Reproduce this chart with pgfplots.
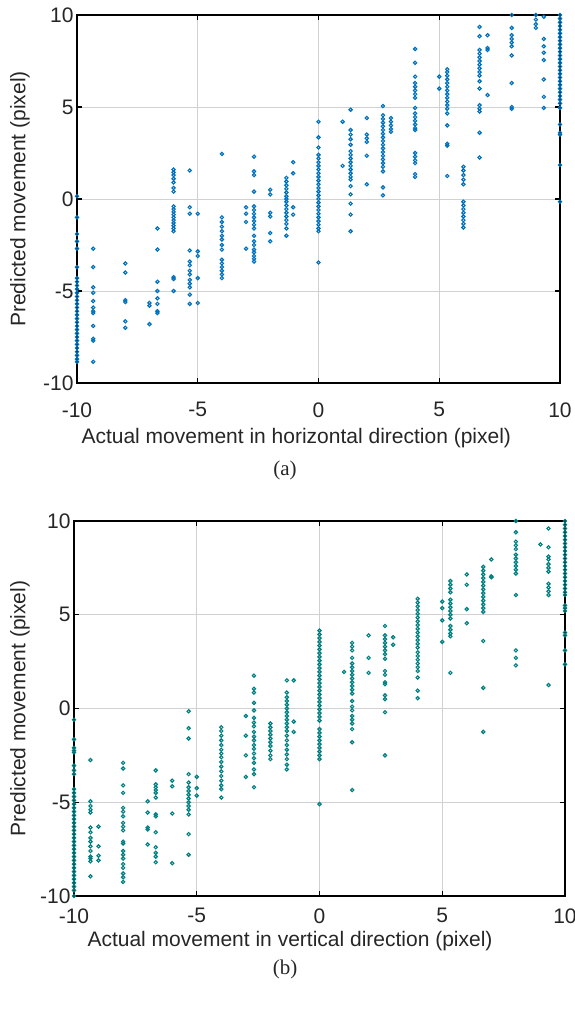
\documentclass[border=0pt]{standalone}
\usepackage{pgfplots}
\pgfplotsset{compat=1.18}
\usepackage{fontspec}
\setmainfont{Liberation Sans}
\newfontfamily\capfont{Liberation Serif}
\definecolor{mblue}{RGB}{0,114,189}
\definecolor{mteal}{RGB}{0,128,128}
\pgfplotsset{
  mystyle/.style={
    scale only axis,
    xmin=-10, xmax=10, ymin=-10, ymax=10,
    xtick={-10,-5,0,5,10}, ytick={-10,-5,0,5,10},
    xticklabels={-10,-5,0,5,10}, yticklabels={-10,-5,0,5,10},
    tick align=inside, major tick length=5pt,
    grid=major, major grid style={black!18, line width=0.9pt},
    axis line style={draw=none},
    tick style={black, line width=1.2pt},
    ticklabel style={font=\fontsize{21}{24}\selectfont, color=black!85},
    label style={font=\fontsize{21}{24}\selectfont, color=black!85},
    clip=false,
  },
  mymarks/.style={only marks, mark=square, mark size=1.15pt, line width=1.15pt,
    mark options={rotate=45}},
}
\begin{document}
\begin{tikzpicture}
\path[use as bounding box] (0,0) rectangle (575pt,1010pt);
% ---------------- (a) ----------------
\begin{axis}[mystyle,
  at={(77pt,627pt)}, anchor=south west,
  width=483pt, height=368pt,
  xticklabel style={yshift=-16pt},
  xlabel={Actual movement in horizontal direction (pixel)},
  ylabel={Predicted movement (pixel)},
  xlabel style={at={(axis description cs:0.454,0)}, anchor=center, yshift=-55pt},
  ylabel style={at={(axis description cs:-0.118,0.5)}, anchor=center},
]
\draw[black, line width=1.4pt] (rel axis cs:0,0) rectangle (rel axis cs:1,1);
\addplot[mymarks, color=mblue] table[row sep=\\] {
x y\\
-10 0.15\\ -10 -1.0\\ -10 -1.9\\ -10 -2.3\\ -10 -2.7\\ -10 -3.7\\ -10 -4.3\\ -10 -4.5\\ -10 -4.7\\ -10 -4.9\\ -10 -5.1\\ -10 -5.3\\ -10 -5.5\\ -10 -5.7\\ -10 -5.9\\ -10 -6.1\\ -10 -6.3\\ -10 -6.5\\ -10 -6.7\\ -10 -6.9\\ -10 -7.1\\ -10 -7.3\\ -10 -7.5\\ -10 -7.7\\ -10 -7.9\\ -10 -8.1\\ -10 -8.3\\ -10 -8.5\\ -10 -8.7\\ -10 -8.85\\
-9.33 -2.7\\ -9.33 -3.7\\ -9.33 -4.8\\ -9.33 -5.1\\ -9.33 -5.55\\ -9.33 -5.9\\ -9.33 -6.1\\ -9.33 -6.2\\ -9.33 -6.9\\ -9.33 -7.6\\ -9.33 -7.7\\ -9.33 -8.85\\
-8 -3.5\\ -8 -4.0\\ -8 -5.5\\ -8 -5.6\\ -8 -6.65\\ -8 -7.0\\
-7 -5.65\\ -7 -5.8\\ -7 -6.8\\
-6.67 -1.6\\ -6.67 -2.75\\ -6.67 -4.5\\ -6.67 -5.0\\ -6.67 -5.4\\ -6.67 -5.7\\ -6.67 -6.1\\ -6.67 -6.2\\
-6 1.6\\ -6 1.45\\ -6 1.3\\ -6 1.1\\ -6 0.9\\ -6 0.6\\ -6 0.4\\ -6 -0.4\\ -6 -0.55\\ -6 -0.7\\ -6 -0.85\\ -6 -1.0\\ -6 -1.15\\ -6 -1.3\\ -6 -1.45\\ -6 -1.6\\ -6 -1.75\\ -6 -4.25\\ -6 -4.35\\ -6 -5.0\\
-5.33 1.55\\ -5.33 -0.45\\ -5.33 -0.8\\ -5.33 -2.8\\ -5.33 -3.4\\ -5.33 -3.6\\ -5.33 -3.9\\ -5.33 -4.1\\ -5.33 -4.4\\ -5.33 -4.6\\ -5.33 -4.8\\ -5.33 -5.2\\ -5.33 -5.7\\
-5 -0.8\\ -5 -2.85\\ -5 -3.1\\ -5 -4.3\\ -5 -5.65\\
-4 2.45\\ -4 -1.0\\ -4 -1.25\\ -4 -1.5\\ -4 -1.75\\ -4 -2.0\\ -4 -2.2\\ -4 -2.5\\ -4 -2.75\\ -4 -3.3\\ -4 -3.5\\ -4 -3.7\\ -4 -3.9\\ -4 -4.1\\ -4 -4.3\\
-3 -0.45\\ -3 -0.8\\ -3 -1.25\\ -3 -2.7\\
-2.67 2.3\\ -2.67 1.5\\ -2.67 1.3\\ -2.67 0.4\\ -2.67 -0.4\\ -2.67 -0.6\\ -2.67 -0.8\\ -2.67 -1.0\\ -2.67 -1.2\\ -2.67 -1.4\\ -2.67 -1.6\\ -2.67 -2.0\\ -2.67 -2.3\\ -2.67 -2.5\\ -2.67 -2.75\\ -2.67 -2.9\\ -2.67 -3.1\\ -2.67 -3.25\\ -2.67 -3.4\\
-2 0.5\\ -2 0.25\\ -2 -0.75\\ -2 -0.95\\ -2 -1.85\\ -2 -2.3\\
-1.33 1.15\\ -1.33 0.95\\ -1.33 0.75\\ -1.33 0.55\\ -1.33 0.35\\ -1.33 0.15\\ -1.33 0.0\\ -1.33 -0.15\\ -1.33 -0.35\\ -1.33 -0.55\\ -1.33 -0.75\\ -1.33 -0.95\\ -1.33 -1.15\\ -1.33 -1.35\\ -1.33 -1.6\\ -1.33 -2.0\\
-1.05 2.0\\ -1.05 1.4\\ -1.05 -0.45\\ -1.05 -0.85\\
0 4.2\\ 0 3.35\\ 0 2.8\\ 0 2.4\\ 0 2.2\\ 0 2.0\\ 0 1.8\\ 0 1.6\\ 0 1.4\\ 0 1.2\\ 0 1.0\\ 0 0.8\\ 0 0.6\\ 0 0.4\\ 0 0.2\\ 0 0.0\\ 0 -0.2\\ 0 -0.4\\ 0 -0.6\\ 0 -0.8\\ 0 -1.0\\ 0 -1.2\\ 0 -1.4\\ 0 -1.6\\ 0 -1.75\\ 0 -3.45\\
1 4.2\\ 1 1.8\\
1.33 4.85\\ 1.33 3.75\\ 1.33 3.5\\ 1.33 3.25\\ 1.33 2.95\\ 1.33 2.6\\ 1.33 2.4\\ 1.33 2.2\\ 1.33 2.0\\ 1.33 1.8\\ 1.33 1.6\\ 1.33 1.4\\ 1.33 1.2\\ 1.33 1.05\\ 1.33 0.7\\ 1.33 0.25\\ 1.33 -0.25\\ 1.33 -0.85\\ 1.33 -1.75\\
2 4.4\\ 2 3.5\\ 2 3.3\\ 2 3.1\\ 2 2.35\\ 2 0.8\\
2.67 5.05\\ 2.67 4.55\\ 2.67 4.35\\ 2.67 4.15\\ 2.67 3.95\\ 2.67 3.75\\ 2.67 3.55\\ 2.67 3.35\\ 2.67 3.15\\ 2.67 2.95\\ 2.67 2.75\\ 2.67 2.55\\ 2.67 2.35\\ 2.67 2.15\\ 2.67 1.95\\ 2.67 1.75\\ 2.67 1.5\\ 2.67 0.63\\ 2.67 0.2\\
3 4.4\\ 3 4.2\\ 3 4.0\\ 3 3.8\\ 3 3.65\\
4 8.15\\ 4 7.4\\ 4 6.65\\ 4 6.3\\ 4 6.1\\ 4 5.9\\ 4 5.7\\ 4 5.5\\ 4 4.95\\ 4 4.65\\ 4 4.45\\ 4 4.25\\ 4 4.05\\ 4 3.85\\ 4 3.75\\ 4 2.5\\ 4 2.3\\ 4 2.1\\ 4 1.95\\ 4 1.35\\ 4 1.2\\
5 6.65\\ 5 6.0\\
5.33 7.05\\ 5.33 6.9\\ 5.33 6.7\\ 5.33 6.5\\ 5.33 6.3\\ 5.33 6.1\\ 5.33 5.9\\ 5.33 5.7\\ 5.33 5.5\\ 5.33 5.3\\ 5.33 5.1\\ 5.33 4.9\\ 5.33 4.65\\ 5.33 4.0\\ 5.33 3.0\\ 5.33 2.9\\ 5.33 1.25\\
6 1.75\\ 6 1.55\\ 6 1.3\\ 6 1.05\\ 6 0.8\\ 6 -0.15\\ 6 -0.35\\ 6 -0.55\\ 6 -0.75\\ 6 -0.95\\ 6 -1.15\\ 6 -1.35\\ 6 -1.55\\
6.67 9.35\\ 6.67 8.85\\ 6.67 8.1\\ 6.67 7.9\\ 6.67 7.7\\ 6.67 7.5\\ 6.67 7.3\\ 6.67 7.1\\ 6.67 6.9\\ 6.67 6.7\\ 6.67 6.4\\ 6.67 6.0\\ 6.67 5.1\\ 6.67 4.9\\ 6.67 4.75\\ 6.67 3.6\\ 6.67 2.25\\
7 8.9\\ 7 8.2\\ 7 8.1\\ 7 5.65\\
8 10\\ 8 9.3\\ 8 8.9\\ 8 8.7\\ 8 8.5\\ 8 8.3\\ 8 7.8\\ 8 6.3\\ 8 5.0\\ 8 4.9\\
9 10\\ 9 9.75\\ 9 9.5\\ 9 9.3\\
9.33 9.9\\ 9.33 8.7\\ 9.33 8.3\\ 9.33 7.95\\ 9.33 7.55\\ 9.33 6.5\\ 9.33 5.55\\ 9.33 4.95\\
10 10\\ 10 9.8\\ 10 9.6\\ 10 9.4\\ 10 9.2\\ 10 9.0\\ 10 8.8\\ 10 8.6\\ 10 8.4\\ 10 8.2\\ 10 8.0\\ 10 7.8\\ 10 7.6\\ 10 7.4\\ 10 7.2\\ 10 7.0\\ 10 6.8\\ 10 6.6\\ 10 6.4\\ 10 6.2\\ 10 6.0\\ 10 5.8\\ 10 5.6\\ 10 5.4\\ 10 5.2\\ 10 4.95\\ 10 4.05\\ 10 3.6\\ 10 3.5\\ 10 1.85\\ 10 -0.15\\
};
\end{axis}
\node[font=\capfont\fontsize{21}{24}\selectfont, text=black!85] at (285pt,540pt) {(a)};
% ---------------- (b) ----------------
\begin{axis}[mystyle,
  at={(74pt,114pt)}, anchor=south west,
  width=491pt, height=375pt,
  xticklabel style={yshift=-9pt},
  xlabel={Actual movement in vertical direction (pixel)},
  ylabel={Predicted movement (pixel)},
  xlabel style={at={(axis description cs:0.440,0)}, anchor=center, yshift=-45pt},
  ylabel style={at={(axis description cs:-0.110,0.5)}, anchor=center},
]
\draw[black, line width=1.4pt] (rel axis cs:0,0) rectangle (rel axis cs:1,1);
\addplot[mymarks, color=mteal] table[row sep=\\] {
x y\\
-10 -0.6\\ -10 -1.65\\ -10 -2.1\\ -10 -2.25\\ -10 -2.35\\ -10 -3.05\\ -10 -3.3\\ -10 -3.5\\ -10 -4.3\\ -10 -4.5\\ -10 -4.7\\ -10 -4.9\\ -10 -5.1\\ -10 -5.3\\ -10 -5.5\\ -10 -5.7\\ -10 -5.9\\ -10 -6.1\\ -10 -6.3\\ -10 -6.5\\ -10 -6.7\\ -10 -6.9\\ -10 -7.1\\ -10 -7.3\\ -10 -7.5\\ -10 -7.7\\ -10 -7.9\\ -10 -8.1\\ -10 -8.3\\ -10 -8.5\\ -10 -8.7\\ -10 -8.9\\ -10 -9.1\\ -10 -9.3\\ -10 -9.5\\ -10 -9.7\\ -10 -10\\
-9.33 -2.75\\ -9.33 -4.95\\ -9.33 -5.2\\ -9.33 -5.4\\ -9.33 -5.55\\ -9.33 -6.35\\ -9.33 -6.6\\ -9.33 -6.9\\ -9.33 -7.1\\ -9.33 -7.35\\ -9.33 -7.6\\ -9.33 -7.9\\ -9.33 -8.0\\ -9.33 -8.15\\ -9.33 -8.95\\
-9 -6.3\\ -9 -7.35\\ -9 -7.85\\ -9 -8.1\\
-8 -2.9\\ -8 -3.2\\ -8 -4.1\\ -8 -4.5\\ -8 -5.3\\ -8 -5.5\\ -8 -5.75\\ -8 -6.1\\ -8 -6.3\\ -8 -6.5\\ -8 -7.1\\ -8 -7.2\\ -8 -7.6\\ -8 -7.8\\ -8 -8.0\\ -8 -8.3\\ -8 -8.5\\ -8 -8.8\\ -8 -9.0\\ -8 -9.25\\
-7 -4.95\\ -7 -5.55\\ -7 -6.35\\ -7 -6.45\\ -7 -7.25\\
-6.67 -3.3\\ -6.67 -4.05\\ -6.67 -4.2\\ -6.67 -4.35\\ -6.67 -4.5\\ -6.67 -4.75\\ -6.67 -5.65\\ -6.67 -5.75\\ -6.67 -6.6\\ -6.67 -7.4\\ -6.67 -7.7\\ -6.67 -7.9\\ -6.67 -8.2\\
-6 -3.85\\ -6 -4.15\\ -6 -5.6\\ -6 -8.25\\
-5.33 -0.15\\ -5.33 -1.05\\ -5.33 -1.6\\ -5.33 -3.5\\ -5.33 -3.95\\ -5.33 -4.2\\ -5.33 -4.4\\ -5.33 -4.6\\ -5.33 -4.8\\ -5.33 -5.0\\ -5.33 -5.2\\ -5.33 -5.4\\ -5.33 -5.65\\ -5.33 -6.7\\ -5.33 -7.8\\
-5 -3.65\\ -5 -4.25\\ -5 -4.65\\
-4 -1.0\\ -4 -1.2\\ -4 -1.45\\ -4 -1.7\\ -4 -1.95\\ -4 -2.2\\ -4 -2.4\\ -4 -2.6\\ -4 -2.85\\ -4 -3.1\\ -4 -3.35\\ -4 -3.6\\ -4 -3.85\\ -4 -4.1\\ -4 -4.3\\ -4 -4.75\\
-3 -0.4\\ -3 -1.45\\ -3 -2.5\\ -3 -3.65\\
-2.67 1.75\\ -2.67 1.05\\ -2.67 0.85\\ -2.67 0.3\\ -2.67 -0.1\\ -2.67 -0.5\\ -2.67 -0.75\\ -2.67 -0.95\\ -2.67 -1.25\\ -2.67 -1.5\\ -2.67 -1.7\\ -2.67 -1.95\\ -2.67 -2.15\\ -2.67 -2.4\\ -2.67 -2.65\\ -2.67 -2.9\\ -2.67 -3.25\\ -2.67 -3.5\\ -2.67 -4.2\\
-2 -0.8\\ -2 -1.0\\ -2 -1.2\\ -2 -1.4\\ -2 -1.6\\ -2 -1.8\\ -2 -2.0\\ -2 -2.25\\ -2 -2.5\\ -2 -2.7\\
-1.33 1.5\\ -1.33 0.85\\ -1.33 0.6\\ -1.33 0.4\\ -1.33 0.2\\ -1.33 0.0\\ -1.33 -0.2\\ -1.33 -0.4\\ -1.33 -0.6\\ -1.33 -0.8\\ -1.33 -1.0\\ -1.33 -1.2\\ -1.33 -1.45\\ -1.33 -1.7\\ -1.33 -1.95\\ -1.33 -2.2\\ -1.33 -2.45\\ -1.33 -2.7\\ -1.33 -3.0\\ -1.33 -3.25\\
-1.05 1.5\\ -1.05 -0.7\\ -1.05 -1.25\\
0 4.15\\ 0 3.95\\ 0 3.75\\ 0 3.55\\ 0 3.35\\ 0 3.15\\ 0 2.95\\ 0 2.75\\ 0 2.55\\ 0 2.35\\ 0 2.15\\ 0 1.95\\ 0 1.75\\ 0 1.55\\ 0 1.35\\ 0 1.15\\ 0 0.95\\ 0 0.75\\ 0 0.55\\ 0 0.35\\ 0 0.15\\ 0 -0.05\\ 0 -0.25\\ 0 -0.45\\ 0 -0.65\\ 0 -1.1\\ 0 -1.3\\ 0 -1.5\\ 0 -1.7\\ 0 -1.9\\ 0 -2.1\\ 0 -2.3\\ 0 -2.5\\ 0 -2.7\\ 0 -5.1\\
1 1.95\\
1.33 3.5\\ 1.33 3.3\\ 1.33 3.1\\ 1.33 2.7\\ 1.33 2.4\\ 1.33 2.2\\ 1.33 2.0\\ 1.33 1.8\\ 1.33 1.6\\ 1.33 1.4\\ 1.33 1.2\\ 1.33 1.0\\ 1.33 0.8\\ 1.33 0.4\\ 1.33 0.1\\ 1.33 -0.1\\ 1.33 -0.4\\ 1.33 -0.6\\ 1.33 -0.8\\ 1.33 -1.1\\ 1.33 -1.8\\ 1.33 -4.35\\
2 3.9\\ 2 2.7\\ 2 1.9\\
2.67 4.4\\ 2.67 3.9\\ 2.67 3.7\\ 2.67 3.5\\ 2.67 3.3\\ 2.67 3.1\\ 2.67 2.9\\ 2.67 2.65\\ 2.67 2.0\\ 2.67 1.8\\ 2.67 1.4\\ 2.67 1.3\\ 2.67 0.7\\ 2.67 0.5\\ 2.67 -0.2\\ 2.67 -2.5\\
3 3.8\\ 3 3.4\\
4 5.85\\ 4 5.65\\ 4 5.45\\ 4 5.25\\ 4 5.05\\ 4 4.85\\ 4 4.65\\ 4 4.45\\ 4 4.25\\ 4 4.05\\ 4 3.85\\ 4 3.65\\ 4 3.45\\ 4 3.25\\ 4 3.0\\ 4 2.8\\ 4 2.6\\ 4 2.4\\ 4 2.2\\ 4 2.0\\ 4 1.65\\ 4 0.95\\ 4 0.55\\
5 5.7\\ 5 5.35\\ 5 4.7\\ 5 3.55\\
5.33 6.8\\ 5.33 6.6\\ 5.33 6.4\\ 5.33 6.2\\ 5.33 5.8\\ 5.33 5.6\\ 5.33 5.4\\ 5.33 5.2\\ 5.33 5.0\\ 5.33 4.8\\ 5.33 4.4\\ 5.33 4.2\\ 5.33 4.0\\ 5.33 3.85\\ 5.33 1.9\\
6 7.15\\ 6 6.6\\ 6 5.3\\ 6 4.55\\
6.67 7.55\\ 6.67 7.35\\ 6.67 7.15\\ 6.67 6.95\\ 6.67 6.75\\ 6.67 6.55\\ 6.67 6.35\\ 6.67 6.15\\ 6.67 5.95\\ 6.67 5.75\\ 6.67 5.55\\ 6.67 5.35\\ 6.67 5.15\\ 6.67 3.6\\ 6.67 1.1\\ 6.67 -1.25\\
7 7.95\\ 7 7.05\\ 7 7.0\\
8 10\\ 8 9.4\\ 8 8.9\\ 8 8.7\\ 8 8.5\\ 8 8.2\\ 8 8.0\\ 8 7.8\\ 8 7.6\\ 8 7.4\\ 8 7.2\\ 8 6.05\\ 8 3.1\\ 8 2.7\\ 8 2.3\\
9 8.75\\
9.33 9.6\\ 9.33 8.6\\ 9.33 8.1\\ 9.33 7.95\\ 9.33 7.7\\ 9.33 7.5\\ 9.33 7.3\\ 9.33 6.65\\ 9.33 6.45\\ 9.33 6.25\\ 9.33 6.05\\ 9.33 1.25\\
10 10\\ 10 9.8\\ 10 9.6\\ 10 9.4\\ 10 9.2\\ 10 9.0\\ 10 8.8\\ 10 8.6\\ 10 8.4\\ 10 8.2\\ 10 8.0\\ 10 7.8\\ 10 7.6\\ 10 7.4\\ 10 7.2\\ 10 7.0\\ 10 6.8\\ 10 6.6\\ 10 6.4\\ 10 6.2\\ 10 6.05\\ 10 5.5\\ 10 5.35\\ 10 5.2\\ 10 4.05\\ 10 3.9\\ 10 3.1\\ 10 2.35\\
};
\end{axis}
\node[font=\capfont\fontsize{21}{24}\selectfont, text=black!85] at (285pt,41pt) {(b)};
\end{tikzpicture}
\end{document}
